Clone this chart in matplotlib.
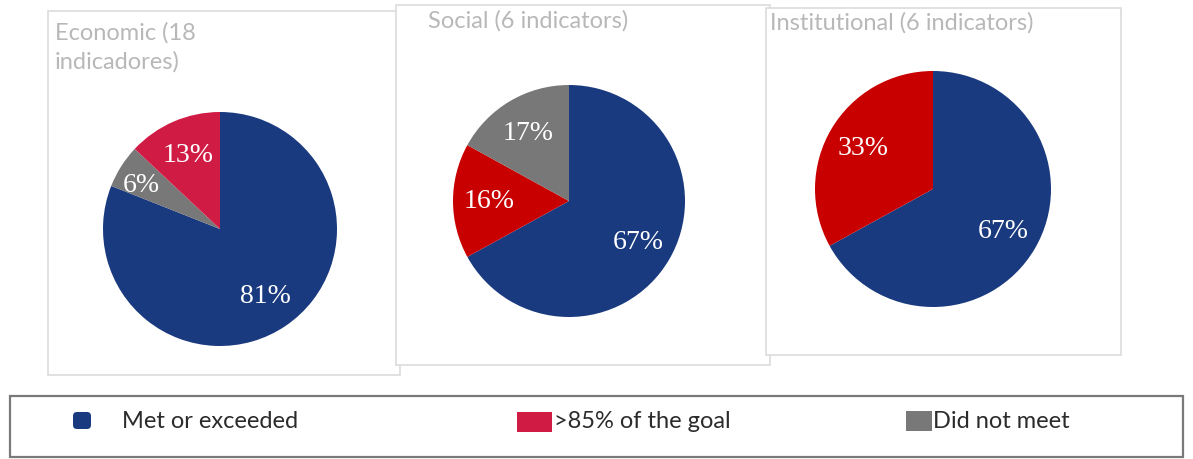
import matplotlib.pyplot as plt
from matplotlib.patches import Rectangle, FancyBboxPatch

W, H = 1193, 460

# data
titles = ["Economic (18\nindicadores)", "Social (6 indicators)", "Institutional (6 indicators)"]
economic_vals = [81, 6, 13]
economic_labels = ["81%", "6%", "13%"]
social_vals = [67, 16, 17]
social_labels = ["67%", "16%", "17%"]
institutional_vals = [67, 33]
institutional_labels = ["67%", "33%"]
legend_labels = ["Met or exceeded", ">85% of the goal", "Did not meet"]

BLUE = "#1a3a7f"
CRIMSON = "#d01c45"
RED = "#c80000"
GRAY = "#787878"
TITLE_GRAY = "#b8b8b8"


def py(y):
    # pixel row (from top) -> data y (from bottom)
    return H - y


fig = plt.figure(figsize=(W / 100, H / 100), dpi=100)
ax = fig.add_axes([0, 0, 1, 1])

# panel boxes behind each pie
panels = [(48, 12, 400, 376), (396, 6, 770, 366), (766, 9, 1121, 356)]
for x0, y0, x1, y1 in panels:
    ax.add_patch(Rectangle((x0, py(y1)), x1 - x0, y1 - y0, facecolor="white",
                           edgecolor="#dcdcdc", lw=1.2, zorder=1))

pies = [
    (economic_vals, economic_labels, [BLUE, GRAY, CRIMSON], (220, 230), 117),
    (social_vals, social_labels, [BLUE, RED, GRAY], (569, 202), 116),
    (institutional_vals, institutional_labels, [BLUE, RED], (933, 190), 118),
]
all_autotexts = []
for vals, labels, cols, (cx, cy), r in pies:
    lab_iter = iter(labels)
    wedges, _, autotexts = ax.pie(vals, colors=cols, startangle=90, counterclock=False,
                                  center=(cx, py(cy)), radius=r,
                                  autopct=lambda p, it=lab_iter: next(it),
                                  pctdistance=0.69,
                                  wedgeprops=dict(linewidth=0),
                                  textprops=dict(color="white", fontsize=20,
                                                 family="Liberation Serif"))
    for w in wedges:
        w.set_zorder(2)
    for t in autotexts:
        t.set_zorder(3)
    all_autotexts.append(autotexts)

# the small grey slice label sits further out, near the rim
small = all_autotexts[0][1]
sx, sy = small.get_position()
cx, cy = 220, py(230)
small.set_position((cx + (sx - cx) * 1.15, cy + (sy - cy) * 1.15 - 5))

title_pos = [(55, 22), (428, 10), (770, 12)]
for t, (tx, ty) in zip(titles, title_pos):
    ax.text(tx, py(ty), t, color=TITLE_GRAY, fontsize=17, family="Lato",
            ha="left", va="top", linespacing=1.45, zorder=4)

# legend box
ax.add_patch(Rectangle((10, py(458)), 1173, 61, facecolor="white",
                       edgecolor="#7a7a7a", lw=1.6, zorder=1))
ax.add_patch(FancyBboxPatch((73, py(430)), 18, 17, boxstyle="round,pad=0,rounding_size=4",
                            facecolor=BLUE, edgecolor="none", zorder=2))
ax.add_patch(Rectangle((517, py(433)), 35, 20, facecolor=CRIMSON, edgecolor="none", zorder=2))
ax.add_patch(Rectangle((906, py(432)), 26, 20, facecolor=GRAY, edgecolor="none", zorder=2))
for lab, lx in zip(legend_labels, [122, 554, 933]):
    ax.text(lx, py(422), lab, color="#2b2b2b", fontsize=17, family="Lato",
            ha="left", va="center", zorder=3)

ax.set_xlim(0, W)
ax.set_ylim(0, H)
ax.set_aspect("auto")
ax.axis("off")

fig.savefig("out.png", dpi=100, facecolor="white")
